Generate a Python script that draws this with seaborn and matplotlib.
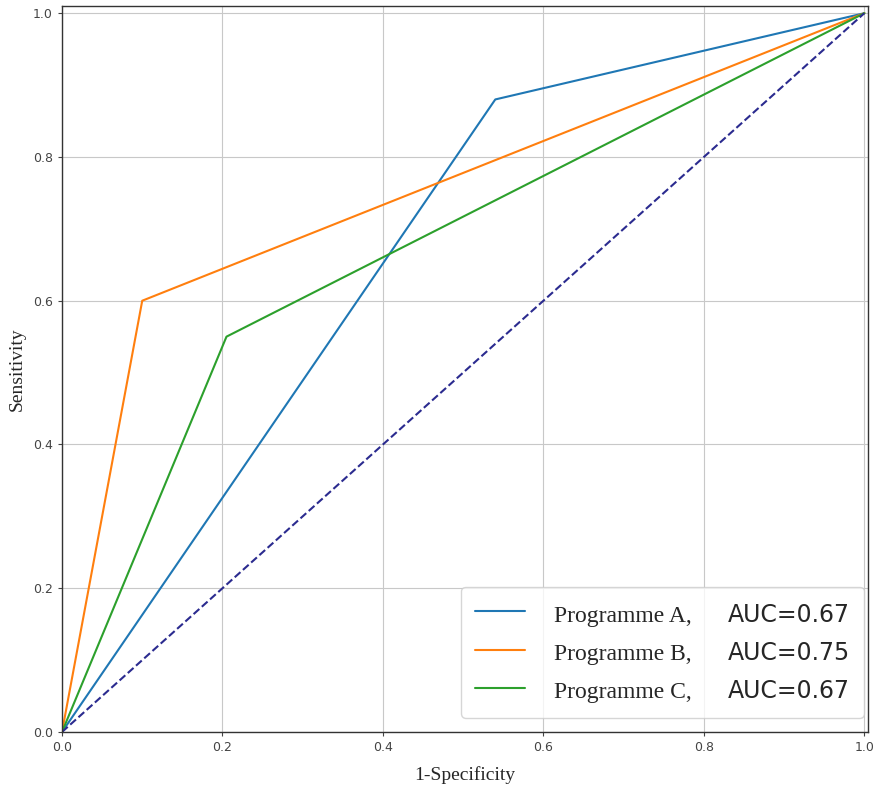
import matplotlib
matplotlib.use("Agg")
import matplotlib.pyplot as plt
import seaborn as sns
import pandas as pd
from matplotlib.lines import Line2D

programmes = ["Programme A,", "Programme B,", "Programme C,"]
auc_labels = ["AUC=0.67", "AUC=0.75", "AUC=0.67"]
fpr_a = [0.0, 0.54, 1.0]
tpr_a = [0.0, 0.88, 1.0]
fpr_b = [0.0, 0.10, 1.0]
tpr_b = [0.0, 0.60, 1.0]
fpr_c = [0.0, 0.205, 1.0]
tpr_c = [0.0, 0.55, 1.0]
diag = [0.0, 1.0]
ticks = [0.0, 0.2, 0.4, 0.6, 0.8, 1.0]
colors = ["#1f77b4", "#ff7f0e", "#2ca02c"]

rows = []
for name, xs, ys in zip(programmes, [fpr_a, fpr_b, fpr_c], [tpr_a, tpr_b, tpr_c]):
    for i, (x, y) in enumerate(zip(xs, ys)):
        rows.append({"fpr": x, "tpr": y, "prog": name, "order": i})
df = pd.DataFrame(rows)

sns.set_style("white")
fig = plt.figure(figsize=(8.77, 7.87), dpi=100)
L, R, T, B = 62, 868, 6, 732
ax = fig.add_axes([L / 877, 1 - B / 787, (R - L) / 877, (B - T) / 787])

sns.lineplot(data=df, x="fpr", y="tpr", hue="prog", palette=colors, sort=False,
             estimator=None, ax=ax, linewidth=1.5, legend=False)
ax.plot(diag, diag, color="#2b2b8f", linestyle="--", linewidth=1.5)

ax.set_xlim(0, 1.0045)
ax.set_ylim(0, 1.01)
ax.set_xticks(ticks)
ax.set_yticks(ticks)
ax.set_xticklabels([f"{t:.1f}" for t in ticks])
ax.set_yticklabels([f"{t:.1f}" for t in ticks])
ax.grid(True, color="#c8c8c8", linewidth=0.8)
ax.tick_params(axis="both", labelsize=9, colors="#444444", length=3, width=0.8, direction="out",
               bottom=True, left=True)
for s in ax.spines.values():
    s.set_color("#333333")
    s.set_linewidth(1.0)
ax.set_xlabel("1-Specificity", fontfamily="Liberation Serif", fontsize=14, labelpad=9)
ax.set_ylabel("Sensitivity", fontfamily="Liberation Serif", fontsize=14, labelpad=5)

handles = [Line2D([0], [0], color=c, lw=1.5) for c in colors]
blank = [Line2D([0], [0], color="none", lw=0) for _ in auc_labels]
leg = ax.legend(handles + blank, programmes + auc_labels, ncol=2, loc="lower right",
                bbox_to_anchor=((864 - L) / (R - L), (B - 718) / (B - T)),
                borderaxespad=0, prop={"family": "Liberation Serif", "size": 17},
                handlelength=2.1, handleheight=1.35, labelspacing=0.5, handletextpad=1.25,
                columnspacing=-1.85, borderpad=0.6, frameon=True, fancybox=True)
for t in leg.get_texts()[3:]:
    t.set_fontfamily("DejaVu Sans")
leg.get_frame().set_edgecolor("#cccccc")

fig.savefig("out.png", dpi=100)
